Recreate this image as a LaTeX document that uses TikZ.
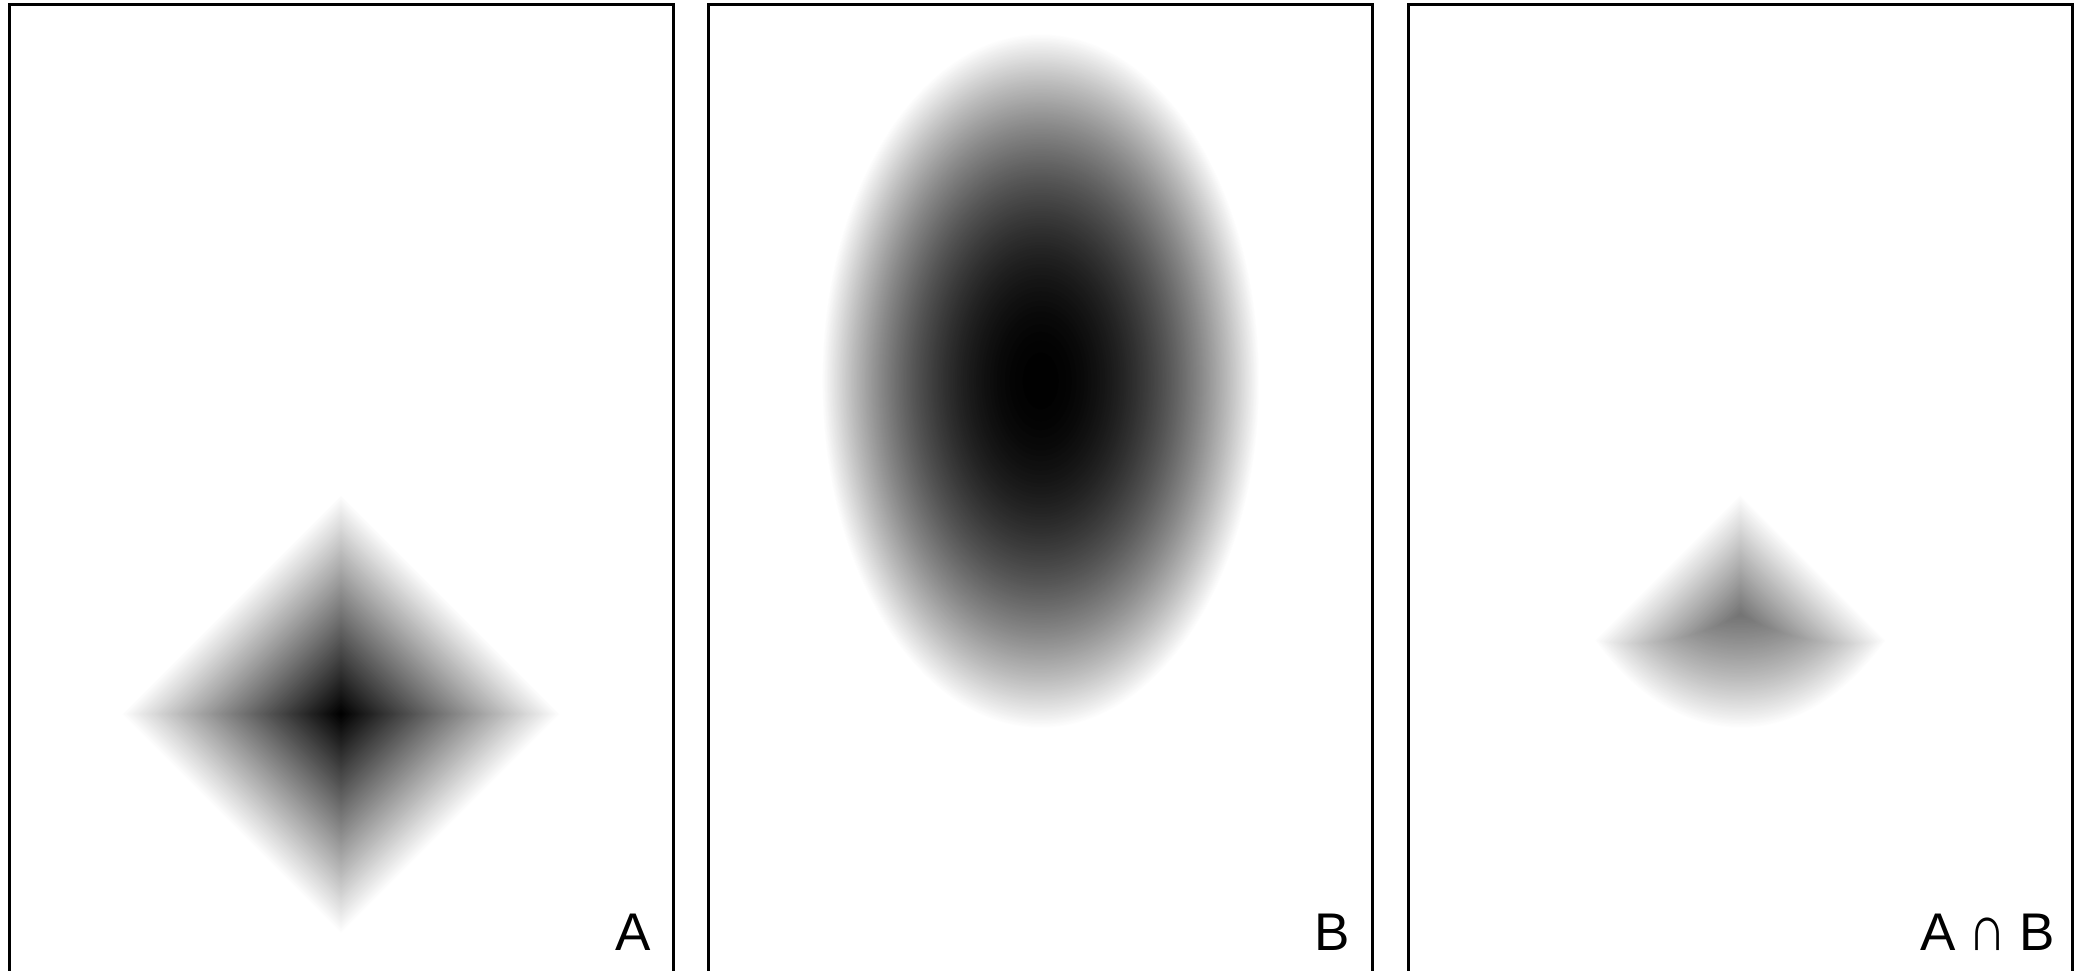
\documentclass[tikz,border=0pt]{standalone}
\usepackage{fontspec}
\setmainfont{Liberation Sans}
\begin{document}
\begin{tikzpicture}[x=1pt,y=-1pt,
  panelbox/.style={draw=black,line width=3pt},
  lbl/.style={font=\fontsize{53}{60}\selectfont,anchor=base east,inner sep=0pt}]
\useasboundingbox (0,0) rectangle (2076,971);
\begin{scope}
\clip (0,0) rectangle (2076,971);
% panel A: diamond, linear pyramid profile
\foreach \i in {0,...,149}{
  \pgfmathsetmacro{\pc}{100*(\i+0.5)/150}
  \pgfmathsetmacro{\h}{219*(1-\i/150)}
  \fill[black!\pc] (341,{714-\h}) -- ({341+\h},714) -- (341,{714+\h}) -- ({341-\h},714) -- cycle;
}
% panel B: ellipse, profile 1 - r^2
\foreach \i in {0,...,149}{
  \pgfmathsetmacro{\pc}{100*(\i+0.5)/150}
  \pgfmathsetmacro{\s}{sqrt(1-\i/150)}
  \pgfmathsetmacro{\rx}{218.5*\s}
  \pgfmathsetmacro{\ry}{347*\s}
  \fill[black!\pc] (1040.7,381) ellipse [x radius=\rx pt, y radius=\ry pt];
}
% panel A cap B: min of both
\foreach \i in {0,...,149}{
  \pgfmathsetmacro{\pc}{100*(\i+0.5)/150}
  \pgfmathsetmacro{\h}{219*(1-\i/150)}
  \pgfmathsetmacro{\s}{sqrt(1-\i/150)}
  \pgfmathsetmacro{\rx}{218.5*\s}
  \pgfmathsetmacro{\ry}{347*\s}
  \begin{scope}
    \clip (1740.4,{714-\h}) -- ({1740.4+\h},714) -- (1740.4,{714+\h}) -- ({1740.4-\h},714) -- cycle;
    \fill[black!\pc] (1740.4,381) ellipse [x radius=\rx pt, y radius=\ry pt];
  \end{scope}
}
\draw[panelbox] (9,4.5) rectangle (673,1000);
\draw[panelbox] (708.7,4.5) rectangle (1372.7,1000);
\draw[panelbox] (1408.4,4.5) rectangle (2072.4,1000);
\end{scope}
\node[lbl] (la) at (651,950) {A};
\node[lbl] (lb) at (1350,950) {B};
\node[lbl] (lab) at (2055,950) {A\kern13pt\scalebox{1}[1.22]{∩}\kern13pt B};
\end{tikzpicture}
\end{document}
